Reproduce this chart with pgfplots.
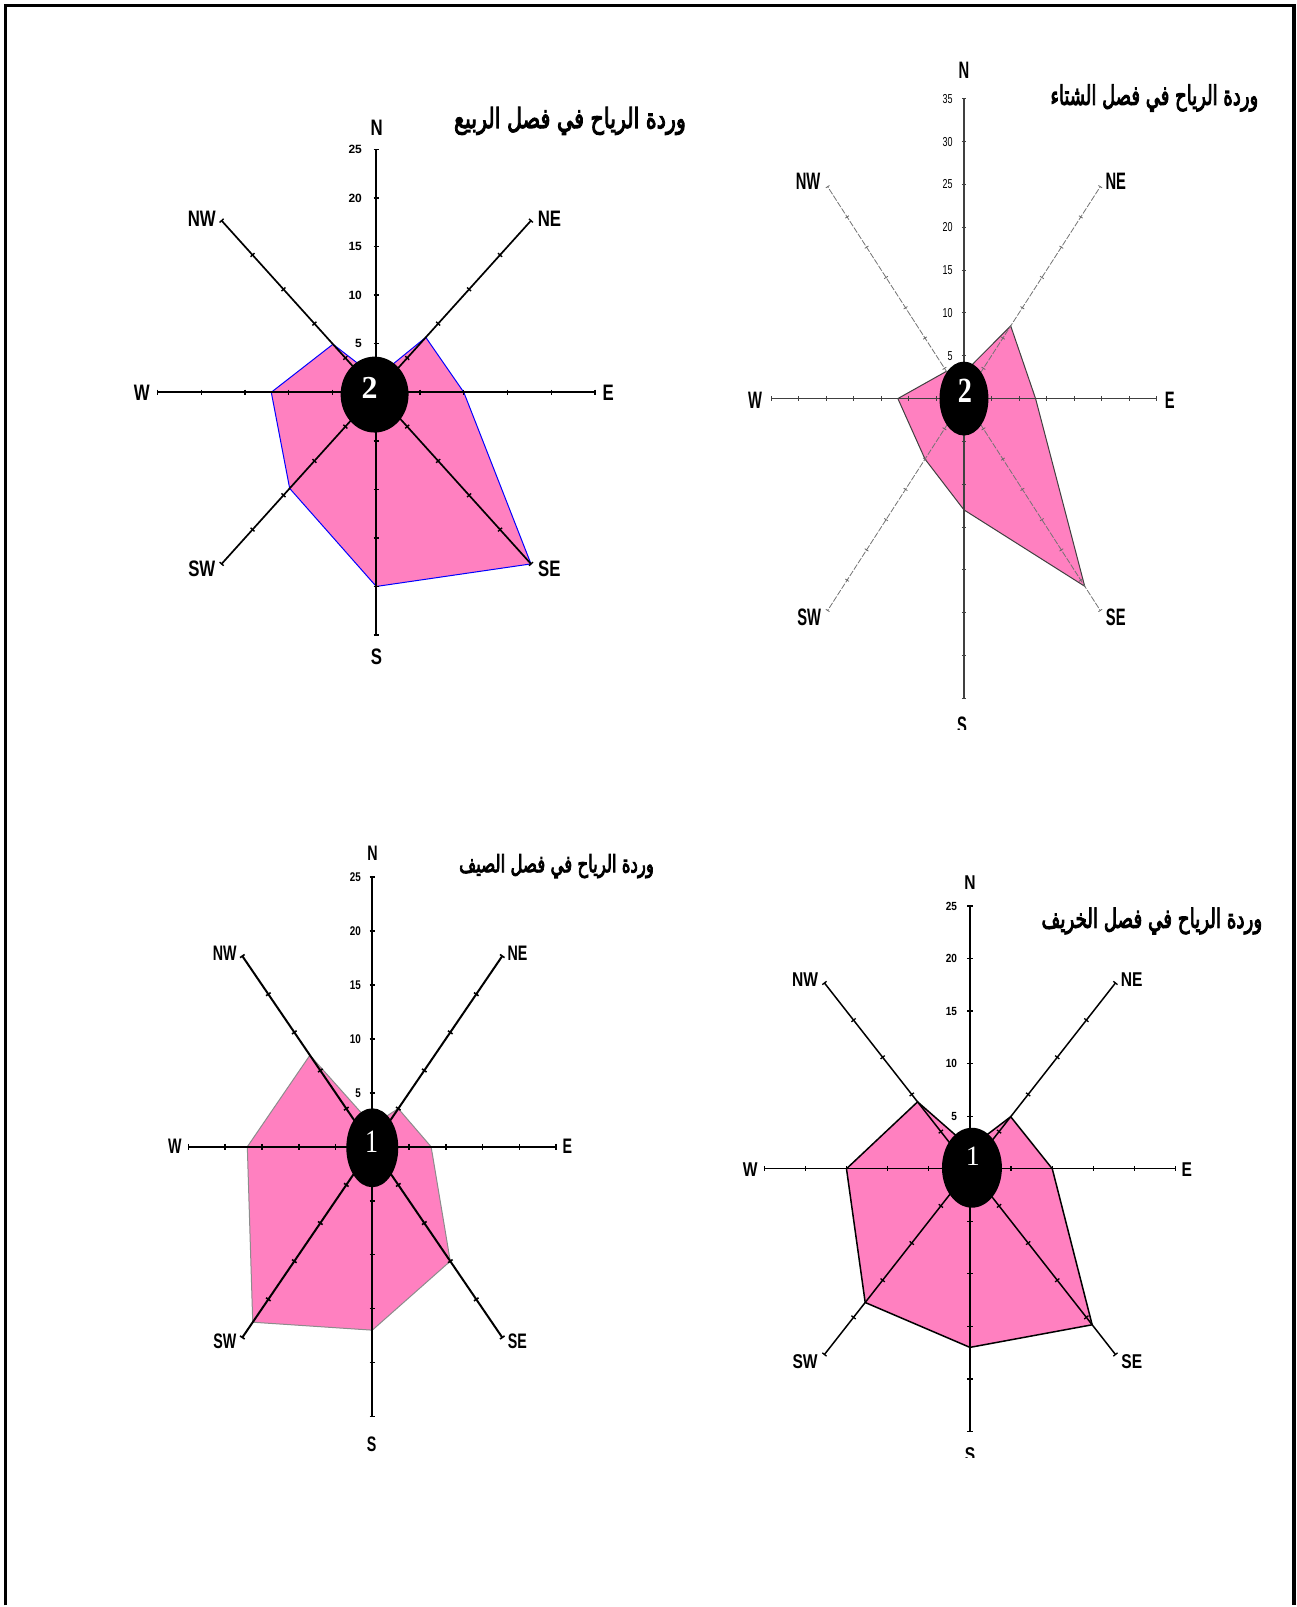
\documentclass[border=0pt]{standalone}
\usepackage{fontspec}
\usepackage{graphicx}
\usepackage{pgfplots}
\pgfplotsset{compat=1.18}
\usepgfplotslibrary{polar}
\setmainfont{Liberation Sans}
\newfontfamily\arabicfont[Script=Arabic,FakeBold=4]{DejaVu Sans}
\newfontfamily\labA[FakeStretch=0.75]{Liberation Sans}
\newfontfamily\labB[FakeStretch=0.62]{Liberation Sans}
\newfontfamily\labC[FakeStretch=0.68]{Liberation Sans}
\newfontfamily\labD[FakeStretch=0.78]{Liberation Sans}
\newfontfamily\tkB[FakeStretch=0.69]{Liberation Sans}
\newfontfamily\tkC[FakeStretch=0.78]{Liberation Sans}
\newfontfamily\tkD[FakeStretch=0.85]{Liberation Sans}
\newfontfamily\digfont{Liberation Serif}
\TeXXeTstate=1
\definecolor{rosepink}{RGB}{255,128,192}

\newcommand\spoke[3]{\addplot[#3, data cs=polar, mark=none, forget plot] coordinates {(#1,0) (#1,#2)};}
\newcommand\tks[4]{\addplot[#3, data cs=polar, only marks, mark=|, mark options={rotate=#2, solid}, forget plot, #4] coordinates {(#1,5) (#1,10) (#1,15) (#1,20) (#1,25) (#1,30) (#1,35)};}
% #1 phi, #2 R, #3 cardinal line, #4 diagonal line, #5 cardinal tick style, #6 diagonal tick style, #7 skip option
\newcommand\rose[7]{%
 \spoke{90}{#2}{#3}\spoke{0}{#2}{#3}\spoke{-90}{#2}{#3}\spoke{180}{#2}{#3}%
 \spoke{45}{#2}{#4}\spoke{-45}{#2}{#4}\spoke{-135}{#2}{#4}\spoke{135}{#2}{#4}%
 \tks{90}{90}{#5}{#7}\tks{0}{0}{#5}{#7}\tks{-90}{90}{#5}{#7}\tks{180}{0}{#5}{#7}%
 \tks{45}{#1}{#6}{#7}\tks{-45}{-#1}{#6}{#7}\tks{-135}{180+#1}{#6}{#7}\tks{135}{180-#1}{#6}{#7}%
}
\newcommand\atitle[3]{\scalebox{1}[#2]{\resizebox{#1}{!}{\arabicfont\fontsize{12}{14}\selectfont #3}}}

\begin{document}
\begin{tikzpicture}
\begin{scope}[x=0.5pt,y=-0.5pt]
\path[use as bounding box] (0,0) rectangle (1298,1607);
\end{scope}

% ---------- Spring ----------
\begin{axis}[at={(188.35pt,-196.35pt)}, anchor=center, scale only axis,
  width=219pt, height=243pt, xmin=-25, xmax=25, ymin=-25, ymax=25,
  hide axis, clip=false]
\addplot[fill=rosepink, draw=blue, line width=0.5pt, data cs=polar, mark=none]
  coordinates {(90,1.5) (45,8) (0,10) (-45,25) (-90,20) (-135,14) (180,12) (135,7) (90,1.5)};
\rose{48}{25}{black,line width=0.85pt}{black,line width=0.85pt}
  {black,line width=0.7pt,mark size=1.35pt}{black,line width=0.7pt,mark size=1.35pt}
  {skip coords between index={5}{7}}
\pgfplotsinvokeforeach{5,10,15,20,25}{\node[anchor=east, inner sep=0pt, xshift=-7pt,
  font=\bfseries\fontsize{6}{7}\selectfont] at (axis cs:0,#1) {#1};}
\end{axis}

% ---------- Winter ----------
\begin{axis}[at={(482.5pt,-199.5pt)}, anchor=center, scale only axis,
  width=193pt, height=300pt, xmin=-35, xmax=35, ymin=-35, ymax=35,
  hide axis, clip=false]
\addplot[fill=rosepink, draw=black!75, line width=0.5pt, data cs=polar, mark=none]
  coordinates {(90,3) (45,12) (0,13) (-45,31) (-90,13) (-135,10) (180,12) (135,4.5) (90,3)};
\rose{57.2}{35}{black!75,line width=0.55pt}{black!55,line width=0.4pt,dash pattern=on 3pt off 0.8pt}
  {black!75,line width=0.5pt,mark size=1.1pt}{black!60,line width=0.4pt,mark size=1.1pt}
  {}
\pgfplotsinvokeforeach{5,10,15,20,25,30,35}{\node[anchor=east, inner sep=0pt, xshift=-5.5pt,
  font=\tkB\fontsize{6.5}{7}\selectfont] at (axis cs:0,#1) {#1};}
\end{axis}

% ---------- Summer ----------
\begin{axis}[at={(186.35pt,-574pt)}, anchor=center, scale only axis,
  width=184pt, height=270pt, xmin=-25, xmax=25, ymin=-25, ymax=25,
  hide axis, clip=false]
\addplot[fill=rosepink, draw=black!45, line width=0.5pt, data cs=polar, mark=none]
  coordinates {(90,2) (45,5) (0,8) (-45,15) (-90,17) (-135,23) (180,17) (135,12) (90,2)};
\rose{55.7}{25}{black,line width=1pt}{black,line width=1pt}
  {black,line width=0.8pt,mark size=1.4pt}{black,line width=0.8pt,mark size=1.4pt}
  {skip coords between index={5}{7}}
\pgfplotsinvokeforeach{5,10,15,20,25}{\node[anchor=east, inner sep=0pt, xshift=-5.5pt,
  font=\tkC\bfseries\fontsize{6.3}{7}\selectfont] at (axis cs:0,#1) {#1};}
\end{axis}

% ---------- Autumn ----------
\begin{axis}[at={(485.5pt,-585pt)}, anchor=center, scale only axis,
  width=206pt, height=263pt, xmin=-25, xmax=25, ymin=-25, ymax=25,
  hide axis, clip=false]
\addplot[fill=rosepink, draw=black, line width=0.75pt, data cs=polar, mark=none]
  coordinates {(90,2) (45,7) (0,10) (-45,21) (-90,17) (-135,18) (180,15) (135,9) (90,2)};
\rose{51.9}{25}{black,line width=0.75pt}{black,line width=0.75pt}
  {black,line width=0.65pt,mark size=1.35pt}{black,line width=0.65pt,mark size=1.35pt}
  {skip coords between index={5}{7}}
\pgfplotsinvokeforeach{5,10,15,20,25}{\node[anchor=east, inner sep=0pt, xshift=-6.3pt,
  font=\tkD\bfseries\fontsize{5.9}{7}\selectfont] at (axis cs:0,#1) {#1};}
\end{axis}

\begin{scope}[x=0.5pt,y=-0.5pt]
% frame
\draw[line width=1.75pt, black] (5.6,1607) -- (5.6,5.6) -- (1295.5,5.6) -- (1295.5,1607);

% centre discs and numbers
\fill[black] (375,395) ellipse [x radius=17pt, y radius=19pt];
\node[text=white, inner sep=0pt, font=\digfont\bfseries\fontsize{16}{18}\selectfont] at (370,388) {2};
\fill[black] (965,399) ellipse [x radius=12.25pt, y radius=18.5pt];
\node[text=white, inner sep=0pt, font=\digfont\bfseries\fontsize{17.7}{19}\selectfont] at (966,391.6) {\scalebox{0.8}[1]{2}};
\fill[black] (372.7,1149) ellipse [x radius=13pt, y radius=19.75pt];
\node[text=white, inner sep=0pt, font=\digfont\fontsize{16.3}{18}\selectfont] at (372,1143) {\scalebox{0.8}[1]{1}};
\fill[black] (973,1169) ellipse [x radius=15pt, y radius=20pt];
\node[text=white, inner sep=0pt, font=\digfont\fontsize{14}{16}\selectfont] at (974,1158) {1};

% titles
\node[anchor=east, inner sep=0pt] at (687,121) {\atitle{116pt}{1.35}{\beginR وردة الرياح في فصل الربيع\endR}};
\node[anchor=east, inner sep=0pt] at (1260,98) {\atitle{104pt}{1.5}{\beginR وردة الرياح في فصل الشتاء\endR}};
\node[anchor=east, inner sep=0pt] at (655,867) {\atitle{97.5pt}{1.45}{\beginR وردة الرياح في فصل الصيف\endR}};
\node[anchor=east, inner sep=0pt] at (1264,922) {\atitle{110.5pt}{1.45}{\beginR وردة الرياح في فصل الخريف\endR}};

% spring labels
\begin{scope}[every node/.style={inner sep=0pt, font=\labA\bfseries\fontsize{11.2}{13}\selectfont}]
\node at (377,128) {N}; \node at (550,219) {NE}; \node at (609,393) {E}; \node at (550,569) {SE};
\node at (377,658) {S}; \node at (202,569) {SW}; \node at (142,393) {W}; \node at (202,219) {NW};
\end{scope}
% winter labels
\begin{scope}[every node/.style={inner sep=0pt, font=\labB\bfseries\fontsize{11.9}{13}\selectfont}]
\node at (965,70) {N}; \node at (1117,182) {NE}; \node at (1171,401) {E}; \node at (1117,618) {SE};
\node at (810,618) {SW}; \node at (756,401) {W}; \node at (809,182) {NW};
\begin{scope}\clip (900,690) rectangle (1030,730); \node at (963,726.5) {S}; \end{scope}
\end{scope}
% summer labels
\begin{scope}[every node/.style={inner sep=0pt, font=\labC\bfseries\fontsize{10.5}{12}\selectfont}]
\node at (373,854) {N}; \node at (518,954) {NE}; \node at (568,1148) {E}; \node at (518,1343) {SE};
\node at (372,1446) {S}; \node at (225,1343) {SW}; \node at (175,1148) {W}; \node at (225,954) {NW};
\end{scope}
% autumn labels
\begin{scope}[every node/.style={inner sep=0pt, font=\labD\bfseries\fontsize{10}{12}\selectfont}]
\node at (971,884) {N}; \node at (1133,981) {NE}; \node at (1188,1171) {E}; \node at (1133,1363) {SE};
\node at (806,1363) {SW}; \node at (751,1171) {W}; \node at (806,981) {NW};
\begin{scope}\clip (900,1430) rectangle (1040,1459); \node at (971,1456) {S}; \end{scope}
\end{scope}
\end{scope}
\end{tikzpicture}
\end{document}
